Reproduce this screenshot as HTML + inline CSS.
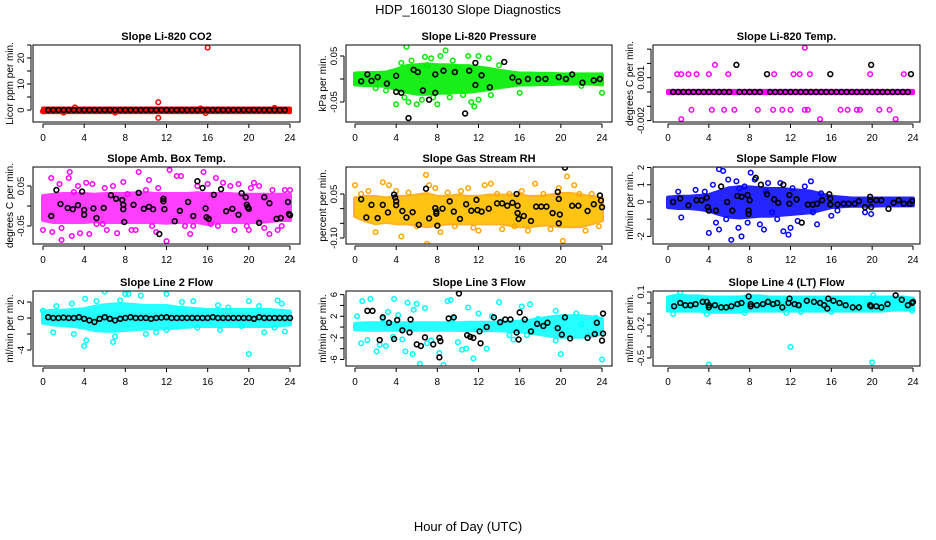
<!DOCTYPE html>
<html><head><meta charset="utf-8">
<style>
html,body{margin:0;padding:0;background:#fff;}
svg{display:block;font-family:"Liberation Sans",Arial,sans-serif;}
</style></head>
<body>
<svg id="chart" width="936" height="540" viewBox="0 0 936 540">
<text x="468" y="14" text-anchor="middle" font-size="13">HDP_160130  Slope Diagnostics</text>
<text x="468" y="531" text-anchor="middle" font-size="13">Hour of Day (UTC)</text>
</svg>
<script>
// ---- data ----
const xTicks = [0,4,8,12,16,20,24];
const hours = [0,1,2,3,4,5,6,7,8,9,10,11,12,13,14,15,16,17,18,19,20,21,22,23,24];

const p1Upper = [0.6,0.6,0.6,0.6,0.6,0.6,0.6,0.6,0.6,0.6,0.6,0.6,0.6,0.6,0.6,0.6,0.6,0.6,0.6,0.6,0.6,0.6,0.6,0.6,0.6];
const p1Lower = [-0.8,-0.8,-0.8,-0.8,-0.8,-0.8,-0.8,-0.8,-0.8,-0.8,-0.8,-0.8,-0.8,-0.8,-0.8,-0.8,-0.8,-0.8,-0.8,-0.8,-0.8,-0.8,-0.8,-0.8,-0.8];
const p1Points = [[16,24],[11.2,3],[11.2,-3],[3.1,1],[0,-0.5],[15.3,0.6],[15.8,-1.2],[22.5,0.8],[7,-1],[2,-1]];
const p1Black = [[0.5,0],[1,0],[1.5,0],[2,0],[2.5,0],[3,0],[3.5,0],[4,0],[4.5,0],[5,0],[5.5,0],[6,0],[6.5,0],[7,0],[7.5,0],[8,0],[8.5,0],[9,0],[9.5,0],[10,0],[10.5,0],[11,0],[11.5,0],[12,0],[12.5,0],[13,0],[13.5,0],[14,0],[14.5,0],[15,0],[15.5,0],[16,0],[16.5,0],[17,0],[17.5,0],[18,0],[18.5,0],[19,0],[19.5,0],[20,0],[20.5,0],[21,0],[21.5,0],[22,0],[22.5,0],[23,0],[23.5,0]];

const p2Upper = [0.012,0.013,0.013,0.014,0.02,0.028,0.03,0.032,0.03,0.03,0.028,0.028,0.025,0.022,0.018,0.015,0.012,0.012,0.011,0.011,0.01,0.01,0.01,0.01,0.01];
const p2Lower = [-0.012,-0.013,-0.014,-0.015,-0.022,-0.028,-0.032,-0.032,-0.03,-0.03,-0.028,-0.028,-0.025,-0.022,-0.018,-0.015,-0.012,-0.012,-0.011,-0.011,-0.01,-0.01,-0.01,-0.01,-0.012];
const p2Points = [[5,0.07],[8.8,0.062],[7.4,0.045],[9.5,0.04],[12,0.05],[13,0.045],[4.5,0.035],[4,-0.055],[5.2,-0.05],[6,-0.055],[8,-0.055],[11.6,-0.06],[12,-0.045],[16,-0.03],[24,-0.03],[11,0.05],[7,0.03],[3,-0.025],[6.5,-0.045],[10,0.025],[8.3,0.05],[6.8,0.048],[9.2,-0.04],[10.5,-0.035],[13.2,-0.035],[5.5,0.04],[7.6,-0.04],[11.3,-0.05],[14,0.03],[4.8,-0.04],[2,-0.02],[22,-0.015]];
const p2Black = [[0.6,-0.005],[1.2,0.01],[1.6,-0.004],[2.2,0.004],[3.1,-0.01],[4,0.007],[4,-0.028],[4.5,-0.03],[5.2,-0.085],[5.7,0.02],[6.1,0.015],[6.6,-0.025],[7.2,-0.045],[7.8,0.01],[7.8,-0.03],[8.6,0.018],[9.7,0.015],[10.7,-0.075],[11.1,0.018],[11.7,0.035],[11.7,-0.013],[12.3,0.008],[13.1,-0.018],[14.5,0.037],[15.3,0.003],[15.9,-0.005],[16.8,0],[17.8,0],[18.5,0],[19.8,0.004],[20.5,0],[21.1,0.01],[22.1,-0.008],[23.2,-0.003],[23.8,0]];

const p3Upper = [0.00008,0.00008,0.00008,0.00008,0.00008,0.00008,0.00008,0.00008,0.00008,0.00008,0.00008,0.00008,0.00008,0.00008,0.00008,0.00008,0.00008,0.00008,0.00008,0.00008,0.00008,0.00008,0.00008,0.00008,0.00008];
const p3Lower = [-0.00008,-0.00008,-0.00008,-0.00008,-0.00008,-0.00008,-0.00008,-0.00008,-0.00008,-0.00008,-0.00008,-0.00008,-0.00008,-0.00008,-0.00008,-0.00008,-0.00008,-0.00008,-0.00008,-0.00008,-0.00008,-0.00008,-0.00008,-0.00008,-0.00008];
const p3Points = [[0.9,0.00125],[1.3,0.00125],[2,0.00125],[2.8,0.00125],[4,0.00125],[5.9,0.00125],[12.3,0.00125],[12.9,0.00125],[13.9,0.00125],[10.4,0.00125],[19.8,0.00125],[23.1,0.00125],[4.6,0.0019],[13.4,0.0031],[2.3,-0.00125],[4.3,-0.00125],[5.5,-0.00125],[6.5,-0.00125],[8.8,-0.00125],[10.3,-0.00125],[11.2,-0.00125],[12,-0.00125],[13.4,-0.00125],[13.7,-0.00125],[16.9,-0.00125],[17.6,-0.00125],[18.5,-0.00125],[18.8,-0.00125],[20.7,-0.00125],[21.7,-0.00125],[1.3,-0.0019],[14.9,-0.0019],[22.3,-0.0019]];
const p3Black = [[0.5,0],[1,0],[1.5,0],[2,0],[2.5,0],[3,0],[3.5,0],[4,0],[4.5,0],[5,0],[5.5,0],[6,0],[7,0],[7.5,0],[8,0],[8.5,0],[9,0],[10,0],[10.5,0],[11,0],[11.5,0],[12,0],[12.5,0],[13,0],[13.5,0],[14,0],[14.5,0],[15,0],[15.5,0],[16,0],[16.5,0],[17,0],[17.5,0],[18,0],[18.5,0],[19,0],[19.5,0],[20,0],[20.5,0],[21,0],[21.5,0],[22,0],[22.5,0],[23,0],[23.5,0],[6.7,0.0019],[19.9,0.0019],[9.7,0.00125],[15.9,0.00125],[23.8,0.00125]];

const p4Upper = [0.025,0.028,0.03,0.03,0.03,0.028,0.03,0.03,0.03,0.032,0.032,0.03,0.03,0.03,0.03,0.032,0.03,0.03,0.03,0.028,0.028,0.028,0.028,0.028,0.028];
const p4Lower = [-0.035,-0.04,-0.04,-0.04,-0.04,-0.038,-0.04,-0.04,-0.04,-0.04,-0.04,-0.04,-0.042,-0.04,-0.04,-0.04,-0.045,-0.04,-0.04,-0.04,-0.04,-0.04,-0.038,-0.035,-0.035];
const p4Points = [[0,-0.06],[0.8,0.07],[0.9,-0.065],[1.6,0.055],[1.8,-0.055],[1.8,-0.085],[2.5,0.07],[2.6,0.085],[2.8,-0.075],[3.4,0.05],[3.6,-0.068],[4.2,0.058],[4.5,-0.07],[4.8,0.055],[5.2,-0.045],[5.8,-0.045],[6,0.045],[6.2,-0.06],[6.8,0.05],[7.2,-0.068],[7.8,0.06],[8.6,-0.06],[9,-0.06],[9.3,0.085],[10,0.04],[10.3,0.065],[10.6,-0.05],[11,-0.065],[11.2,0.045],[12,-0.088],[12.3,0.09],[13,0.075],[13.4,0.075],[13.8,-0.05],[14.3,-0.07],[14.6,-0.05],[15,0.05],[15.6,0.085],[16,0.055],[16.3,-0.045],[16.8,0.07],[17,-0.05],[17.5,0.058],[18.2,0.05],[18.6,-0.06],[19,0.055],[19.8,-0.05],[20,-0.06],[20.5,0.058],[21,0.05],[21.5,-0.055],[22,-0.07],[22.3,0.04],[22.8,-0.06],[23.2,-0.05],[23.5,0.04],[24,0.04],[20.2,0.045],[8.2,0.03],[3,0.035]];
const p4Black = [[0.8,-0.025],[1.3,0.04],[1.7,0.005],[2.4,-0.005],[2.9,-0.008],[3.4,0.002],[3.8,0.036],[4,-0.01],[4,-0.022],[4.9,-0.006],[5.2,-0.03],[5.9,-0.005],[6.6,0.027],[7.1,0.018],[7.7,0.015],[7.8,0.003],[7.8,-0.008],[7.9,-0.04],[8.8,0.003],[9.3,0.033],[9.8,-0.007],[10.3,-0.002],[10.7,-0.008],[11.3,-0.07],[11.7,0.018],[11.7,0.012],[11.8,-0.008],[12.8,-0.038],[13.3,-0.012],[14.1,0.01],[14.6,-0.025],[15,0.062],[15.5,0.045],[15.8,-0.006],[15.9,-0.028],[16.1,-0.032],[16.6,0.028],[17.3,0.042],[17.8,-0.013],[18.4,-0.007],[19,-0.022],[19.3,0.032],[19.7,0.022],[19.8,0.003],[19.9,-0.003],[20,-0.007],[21,-0.042],[21.5,0.022],[22,0.007],[22.7,-0.032],[23.1,-0.03],[23.8,0.01],[23.9,-0.02],[24,-0.023]];

const p5Upper = [0.035,0.04,0.04,0.035,0.04,0.04,0.045,0.05,0.04,0.04,0.045,0.04,0.04,0.045,0.045,0.045,0.045,0.04,0.04,0.045,0.05,0.05,0.045,0.04,0.035];
const p5Lower = [-0.025,-0.04,-0.05,-0.045,-0.05,-0.05,-0.055,-0.06,-0.055,-0.05,-0.05,-0.05,-0.05,-0.05,-0.05,-0.055,-0.06,-0.06,-0.055,-0.055,-0.06,-0.06,-0.06,-0.05,-0.04];
const p5Points = [[0,0.08],[0.6,0.05],[1.3,0.06],[2,-0.08],[2.7,0.09],[3.3,0.08],[4.5,-0.095],[4,0.06],[5.2,0.055],[6,-0.06],[6.9,0.115],[7,-0.12],[7.2,0.08],[7.8,0.07],[8.3,-0.08],[9,0.055],[9.7,-0.06],[10.3,0.06],[11,0.07],[11.5,-0.065],[12,-0.075],[12.6,0.08],[13.2,0.085],[13.8,0.05],[14.3,-0.07],[15,0.05],[15.5,-0.06],[16.2,0.06],[16.8,-0.075],[17.5,0.085],[18.3,0.05],[19,-0.07],[19.8,0.07],[20.2,-0.11],[20.6,0.11],[21.3,0.08],[21.8,0.05],[22.4,-0.075],[23,0.05],[23.7,-0.06]];
const p5Black = [[0.6,0.032],[1.1,-0.03],[1.6,0.013],[2.2,-0.032],[2.7,0.013],[3.2,-0.013],[3.8,0.048],[3.9,0.038],[4,0.025],[4,0.012],[4.6,-0.008],[5,-0.03],[5.6,-0.012],[6.2,-0.055],[6.9,0.068],[7.2,-0.033],[7.8,0.002],[7.9,-0.01],[7.9,-0.017],[8,-0.058],[8.5,0],[9.2,0.025],[9.6,-0.01],[10.2,-0.035],[10.8,0.015],[11.3,-0.007],[11.8,0.03],[11.9,-0.005],[12.3,-0.01],[13,0],[13.8,0.018],[14.3,0.018],[14.8,0.01],[15.3,0.02],[15.7,0.05],[15.8,0.01],[15.8,-0.015],[15.9,-0.035],[16.4,-0.025],[17.1,-0.042],[17.6,0.007],[18.1,0.007],[18.6,0.007],[19.2,-0.015],[19.7,0.057],[19.8,0.033],[19.8,-0.05],[19.9,-0.02],[20.4,0.14],[21.1,0.01],[21.7,0.01],[22.6,-0.008],[23.2,0.015],[23.8,0.045],[23.9,0.028],[24,0.005]];

const p6Upper = [0.25,0.3,0.3,0.35,0.4,0.6,0.8,0.85,0.85,0.8,0.75,0.75,0.7,0.65,0.6,0.45,0.3,0.25,0.2,0.2,0.2,0.2,0.2,0.2,0.2];
const p6Lower = [-0.3,-0.35,-0.35,-0.4,-0.5,-0.7,-0.85,-0.9,-0.85,-0.8,-0.8,-0.75,-0.7,-0.65,-0.6,-0.45,-0.3,-0.25,-0.22,-0.22,-0.22,-0.2,-0.2,-0.2,-0.2];
const p6Points = [[1,0.6],[1.3,-0.9],[2.7,0.7],[3.6,0.6],[4,-1.8],[4.4,1],[4.7,-1.2],[5,1.9],[5.4,1.8],[5.7,-1],[5,-1.6],[5.9,1.3],[6.2,-2.2],[6.7,1.2],[6.9,-1.5],[7.2,-2],[7.5,0.9],[7.8,-1.2],[8.1,1.7],[8.5,1.3],[9,-1.3],[9.4,-1.6],[9.8,1.1],[10.2,-0.6],[10.7,-1],[11,1.1],[11.3,-1.7],[11.8,-1.9],[12.2,0.8],[12.7,-1.1],[13.4,0.9],[14,1.2],[14.2,-0.6],[14.6,-1.3],[15,0.5],[16,-0.8],[16.6,-0.5],[19.3,-0.6],[19.9,-0.7],[12,-1.5],[7,0.8],[9.6,0.6]];
const p6Black = [[0.5,0],[1.2,0.2],[2,-0.2],[2.8,0.1],[3.3,0.1],[3.8,0.25],[3.9,-0.3],[4,-0.5],[4.7,-0.5],[5.2,0.9],[5.8,0],[6.3,-0.5],[6.8,0.35],[7.2,0.3],[7.8,0.4],[7.9,-0.5],[7.9,-0.7],[8,0.1],[8.6,1.4],[9.1,1],[9.7,0.45],[10.4,0.15],[10.8,-0.05],[11.3,1],[11.9,0.4],[11.9,-0.1],[12.6,0.15],[13.1,-1.2],[13.7,-0.15],[14.2,-0.15],[14.6,-0.1],[15.1,0.1],[15.8,0.45],[15.9,0.2],[15.9,-0.15],[16.6,-0.15],[17.2,-0.1],[17.7,-0.1],[18.3,-0.1],[18.7,0.05],[19.3,-0.3],[19.8,0.3],[19.8,0.1],[19.9,-0.3],[20.4,0.1],[20.9,0.1],[21.6,-0.4],[22.1,-0.05],[22.6,0.1],[23.1,-0.1],[23.7,-0.1],[23.9,0.05]];

const p7Upper = [0.8,0.9,0.9,1,1.1,1.4,1.6,1.7,1.7,1.6,1.5,1.5,1.5,1.3,1.2,1.1,1,1,1,1,1,1,1,0.9,0.8];
const p7Lower = [-0.6,-0.8,-0.9,-1,-1.2,-1.5,-1.6,-1.6,-1.5,-1.4,-1.3,-1.3,-1.3,-1.2,-1.1,-1,-1,-1,-1,-1,-1,-1,-1,-0.9,-0.8];
const p7Points = [[20,-4.5],[24,-6.5],[4,-3.5],[4.2,-2.8],[6.8,-3],[7,-2.3],[6,3.3],[8,3],[8.3,3],[9.5,2.8],[12,3],[13.5,2],[1,-1.8],[23.2,1.8],[22.8,2.2],[3,-2],[14.6,2.1],[10,-2],[20,2.1],[21.5,-1.8],[0,0.9],[1.3,1.5],[2.8,1.8],[4.1,2.4],[5.2,2.1],[7.5,2.2],[11,-1.8],[12,-1.5],[15,-1.2],[17,1.6],[17.2,-1.5],[18,1.3],[19.3,-1],[21,1.5],[22.5,-1.2],[23.5,-1.7]];
const p7Black = [[0.5,0.1],[1,0],[1.5,0],[2,0.05],[2.5,0],[3,0],[3.5,0.1],[4,-0.1],[4.5,-0.3],[5,-0.5],[5.5,-0.1],[6,0.1],[6.5,-0.1],[7,-0.3],[7.5,-0.1],[8,0],[8.5,0.1],[9,0],[9.5,0],[10,0],[10.5,-0.1],[11,0],[11.5,0.05],[12,0.1],[12.5,0],[13,0],[13.5,0],[14,0],[14.5,0],[15,0],[15.5,0],[16,0],[16.5,0.1],[17,0],[17.5,0],[18,0],[18.5,0],[19,0],[19.5,0],[20,0],[20.5,-0.1],[21,0.1],[21.5,0],[22,0],[22.5,0],[23,0],[23.5,0],[24,0]];

const p8Upper = [0.6,0.7,0.7,0.7,0.7,0.7,0.7,0.7,0.7,0.7,0.7,0.8,0.8,0.8,0.8,0.9,1,1.2,1.5,1.8,2,2,2,1.8,1.5];
const p8Lower = [-0.4,-0.5,-0.5,-0.5,-0.5,-0.5,-0.5,-0.5,-0.5,-0.5,-0.5,-0.6,-0.6,-0.6,-0.6,-0.7,-0.8,-1,-1.3,-1.6,-1.8,-1.8,-1.8,-1.6,-1.2];
const p8Points = [[0.2,2],[0.6,-3],[0.7,4.8],[1.2,-2.4],[1.5,5.2],[2.1,-4.5],[2.4,-3.3],[2.7,1.5],[3,-3.5],[3.2,2.8],[3.7,-1.8],[3.8,5.2],[4.2,2.2],[4.6,-2.3],[4.9,-4.5],[5.1,4.5],[5.6,-5],[5.7,3.2],[6,4.3],[6.3,-6.8],[6.8,3.5],[7,-3],[7.4,-2.5],[8.2,-4.8],[8.6,-7],[9,4.8],[9.3,5],[9.5,1.5],[10,-2.8],[10.4,-4.2],[10.8,-4],[11,3.6],[11.5,-5.8],[12,2.5],[12.8,-4],[13.3,2],[14,4.6],[14.2,1],[15,-1.5],[15.4,-2.3],[16.2,3.8],[16.7,-1.5],[17,4.2],[17.8,1.5],[19.5,3],[19.5,-2.5],[20,-5],[21.5,2.5],[22,0.5],[23.4,1.7],[24,-6]];
const p8Black = [[1.2,3],[1.7,3],[2.4,-2.4],[2.7,1.8],[3.3,0.8],[3.8,-2.2],[4.1,1.3],[4.6,-0.6],[5.3,-1],[5.4,1.4],[6,-3.2],[6.4,-3.5],[6.8,-1.9],[7.6,-3.2],[8.2,-5.6],[8.2,-2],[8.3,-2.6],[9.1,1.6],[9.6,1.8],[10.1,6.2],[10.9,-1.5],[11.2,-1.8],[11.5,-2],[12.1,-0.8],[12.2,-3],[12.8,0],[13.5,1.8],[14.1,0.9],[14.6,1.4],[15.1,1.4],[15.7,-1],[15.9,-2.3],[16,2.7],[16.5,1.4],[17.1,-0.8],[17.7,0.6],[18.3,0.2],[18.7,0.8],[19.7,-0.2],[20.1,-1.4],[20.4,1.8],[20.9,-2.1],[22.6,-2],[23.3,-1.3],[23.5,0.8],[24,-2.5],[24.1,2.5],[24.1,-1.2]];

const p9Upper = [0.05,0.07,0.06,0.06,0.05,0.05,0.05,0.05,0.06,0.06,0.05,0.05,0.05,0.05,0.05,0.05,0.05,0.05,0.05,0.05,0.05,0.05,0.05,0.05,0.04];
const p9Lower = [-0.07,-0.07,-0.07,-0.07,-0.08,-0.08,-0.08,-0.08,-0.07,-0.07,-0.07,-0.07,-0.07,-0.07,-0.07,-0.07,-0.07,-0.07,-0.07,-0.07,-0.07,-0.07,-0.06,-0.06,-0.06];
const p9Points = [[4,-0.56],[12,-0.4],[20,-0.54],[1.2,0.1],[0.5,-0.1],[3.8,-0.1],[7.5,-0.09],[11.6,-0.09],[13,-0.08],[16,-0.08],[20.1,0.07],[23.9,-0.07]];
const p9Black = [[0.6,-0.03],[1.2,0],[1.7,-0.02],[2.2,-0.02],[2.7,-0.01],[3.4,0.01],[3.8,0.01],[4,-0.02],[4,-0.04],[4.6,-0.02],[5.2,-0.04],[5.7,-0.04],[6.2,-0.03],[6.8,-0.01],[7.2,0],[7.9,0.06],[8.1,-0.01],[8.1,-0.03],[8.7,-0.02],[9.3,-0.01],[9.8,0.01],[10.3,-0.01],[10.7,0],[11.2,-0.04],[11.8,0],[11.9,0.04],[12.4,-0.01],[12.8,-0.02],[13.6,0.02],[14.3,0.01],[14.9,0],[15.3,-0.02],[15.6,-0.05],[15.7,0.04],[16.2,0.02],[16.8,0],[17.4,-0.02],[18.1,-0.04],[18.7,-0.04],[19.8,-0.02],[19.9,-0.03],[20.4,-0.03],[20.9,-0.04],[21.5,-0.01],[22.3,0.07],[22.9,0.03],[23.5,-0.02],[23.9,0],[24,0.01]];

const panelTitles = ["Slope Li-820 CO2","Slope Li-820 Pressure","Slope Li-820 Temp.","Slope Amb. Box Temp.","Slope Gas Stream RH","Slope Sample Flow","Slope Line 2 Flow","Slope Line 3 Flow","Slope Line 4 (LT) Flow"];
const yLabels = ["Licor ppm per min.","kPa per min.","degrees C per min.","degrees C per min.","percent per min.","ml/min per min.","ml/min per min.","ml/min per min.","ml/min per min."];
const yTicks = [[0,5,10,15,20,25],[-0.05,0,0.05],[-0.002,-0.001,0,0.001,0.002,0.003],[-0.05,0,0.05],[-0.1,-0.05,0,0.05],[-2,-1,0,1,2],[-4,-2,0,2],[-6,-4,-2,0,2,4,6],[-0.5,-0.4,-0.3,-0.2,-0.1,0,0.1]];
const yTickLabels = [["0","","10","","20",""],["-0.05","","0.05"],["-0.002","","","0.001","",""],["-0.05","","0.05"],["-0.10","","","0.05"],["-2","","0","1","2"],["-4","","0","2"],["-6","","-2","","2","","6"],["-0.5","","","-0.2","","","0.1"]];
const yDomains = [[-4.6,25],[-0.0935,0.0739],[-0.0021,0.00329],[-0.095,0.0975],[-0.1205,0.142],[-2.44,2.03],[-6,3.375],[-7.2,6.67],[-0.573,0.109]];
const colors = ["#ff0000","#00ee00","#ff00ff","#ff00ff","#ffa500","#0000ff","#00ffff","#00ffff","#00ffff"];
const bandOpacity = [1,0.9,1,0.75,0.85,0.85,0.85,0.85,0.9];
const uppers = [p1Upper,p2Upper,p3Upper,p4Upper,p5Upper,p6Upper,p7Upper,p8Upper,p9Upper];
const lowers = [p1Lower,p2Lower,p3Lower,p4Lower,p5Lower,p6Lower,p7Lower,p8Lower,p9Lower];
const pointsets = [p1Points,p2Points,p3Points,p4Points,p5Points,p6Points,p7Points,p8Points,p9Points];
const blacks = [p1Black,p2Black,p3Black,p4Black,p5Black,p6Black,p7Black,p8Black,p9Black];

// ---- layout ----
const colBox = [[33,300],[346,612],[653,920]];
const colX = [[43,290],[355,602],[668,913]];
const rowBox = [[45,122],[167,244],[291,366]];
const NS = "http://www.w3.org/2000/svg";
const svg = document.getElementById('chart');
function mk(tag, attrs, parent){const e=document.createElementNS(NS,tag);for(const k in attrs)e.setAttribute(k,attrs[k]);(parent||svg).appendChild(e);return e;}

for(let i=0;i<9;i++){
  const r=Math.floor(i/3), c=i%3;
  const [bx0,bx1]=colBox[c], [by0,by1]=rowBox[r], [ax0,ax1]=colX[c];
  const [d0,d1]=yDomains[i];
  const xs=h=>ax0+(ax1-ax0)*h/24;
  const ys=v=>by1-(v-d0)/(d1-d0)*(by1-by0);
  const g=mk('g',{});
  
  
  const clipId='clip'+i;
  const cp=mk('clipPath',{id:clipId},g);
  mk('rect',{x:bx0,y:by0,width:bx1-bx0,height:by1-by0},cp);
  const t=mk('text',{x:(bx0+bx1)/2,y:by0-5,'text-anchor':'middle','font-size':11,'font-weight':'bold'},g);
  t.textContent=panelTitles[i];
  
  
  const plot=mk('g',{'clip-path':'url(#'+clipId+')'},g);
  let pts=hours.map((h,k)=>xs(h)+','+ys(uppers[i][k]));
  pts=pts.concat(hours.slice().reverse().map((h,k)=>xs(h)+','+ys(lowers[i][hours.length-1-k])));
  const band=mk('polygon',{points:pts.join(' '),fill:colors[i],stroke:colors[i],'stroke-width':4,'stroke-linejoin':'round',opacity:bandOpacity[i]},plot);
  
  
  if(i===4){
    const b2=mk('polygon',{points:pts.join(' '),fill:'#ffd400',opacity:0.5},plot);
    
    
  }
  pointsets[i].forEach(p=>{
    const cc=mk('circle',{cx:xs(p[0]),cy:ys(p[1]),r:2.3,fill:'none',stroke:colors[i],'stroke-width':1.5},plot);
    
    
  });
  blacks[i].forEach(p=>{
    const cc=mk('circle',{cx:xs(p[0]),cy:ys(p[1]),r:2.4,fill:'none',stroke:'#000','stroke-width':1.6},plot);
    
    
  });
  const box=mk('rect',{x:bx0,y:by0,width:bx1-bx0,height:by1-by0,fill:'none',stroke:'#000','stroke-width':1},g);
  
  
  mk('line',{x1:xs(0),x2:xs(24),y1:by1+2,y2:by1+2,stroke:'#000'},g);
  xTicks.forEach(h=>{
    mk('line',{x1:xs(h),x2:xs(h),y1:by1+2,y2:by1+6,stroke:'#000'},g);
    const tl=mk('text',{x:xs(h),y:by1+19,'text-anchor':'middle','font-size':10},g);
    tl.textContent=String(h);
    
    
  });
  const yt=yTicks[i];
  mk('line',{x1:bx0-2,x2:bx0-2,y1:ys(yt[0]),y2:ys(yt[yt.length-1]),stroke:'#000'},g);
  yt.forEach((v,k)=>{
    mk('line',{x1:bx0-6,x2:bx0-2,y1:ys(v),y2:ys(v),stroke:'#000'},g);
    const lab=yTickLabels[i][k];
    if(lab){
      const tx=bx0-9, ty=ys(v);
      const tl=mk('text',{x:tx,y:ty,'text-anchor':'middle','font-size':9.5,transform:'rotate(-90 '+tx+' '+ty+')'},g);
      tl.textContent=lab;
      
      
    }
  });
  const lx=bx0-24, ly=(by0+by1)/2;
  const yl=mk('text',{x:lx,y:ly+4,'text-anchor':'middle','font-size':10,transform:'rotate(-90 '+lx+' '+ly+')'},g);
  yl.textContent=yLabels[i];
  
  
}
</script>
</body></html>
